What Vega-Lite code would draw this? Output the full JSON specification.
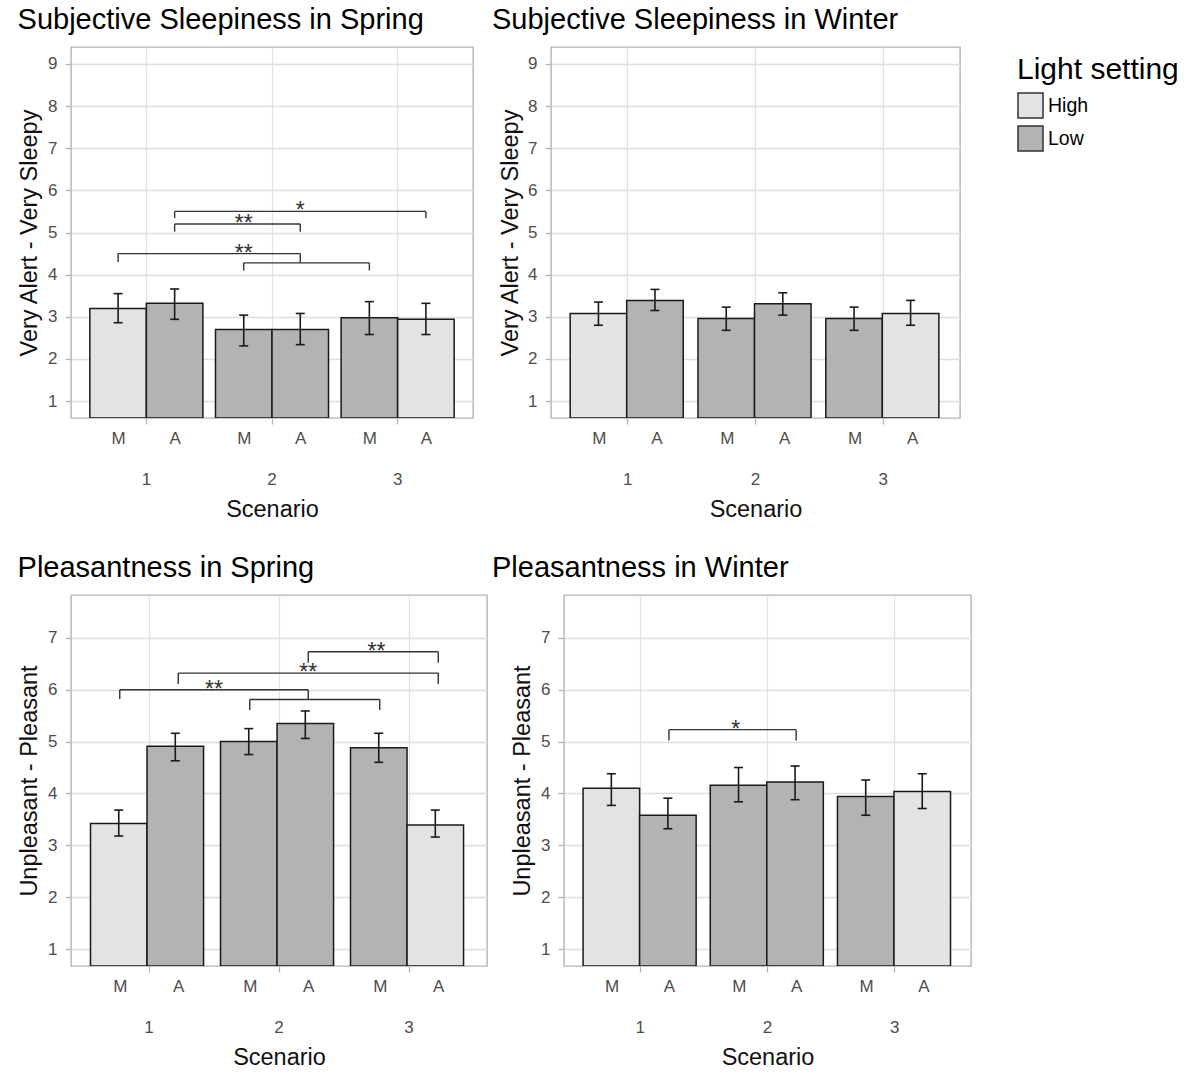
{
  "$schema": "https://vega.github.io/schema/vega-lite/v6.json",
  "background": "white",
  "padding": {"left": 16, "top": 5, "right": 0, "bottom": 0},
  "config": {
    "font": "Liberation Sans",
    "view": {"stroke": "#b3b3b3", "strokeWidth": 1.4},
    "axis": {
      "labelFont": "Liberation Sans", "labelFontSize": 17, "labelColor": "#4d4d4d",
      "titleFont": "Liberation Sans", "titleFontSize": 23.5, "titleFontWeight": "normal", "titleColor": "#111111",
      "tickColor": "#b3b3b3", "tickSize": 6, "tickWidth": 1.3,
      "gridColor": "#e2e2e2", "gridWidth": 1.3, "domain": false
    },
    "title": {"font": "Liberation Sans", "fontSize": 29, "fontWeight": "normal", "anchor": "start", "color": "#000000", "offset": 12},
    "legend": {
      "titleFont": "Liberation Sans", "titleFontSize": 30, "titleFontWeight": "normal", "titleColor": "#000000",
      "labelFont": "Liberation Sans", "labelFontSize": 19.5, "labelColor": "#000000",
      "symbolType": "square", "symbolSize": 625, "symbolStrokeColor": "#333333", "symbolStrokeWidth": 1.5,
      "rowPadding": 2, "labelOffset": 4, "titlePadding": 7, "padding": 8
    }
  },
  "datasets": {
    "bars": [
      {"measure": "Sleepiness", "season": "Spring", "scenario": 1, "time": "M", "light": "High", "mean": 3.20, "lo": 2.86, "hi": 3.55},
      {"measure": "Sleepiness", "season": "Spring", "scenario": 1, "time": "A", "light": "Low", "mean": 3.32, "lo": 2.94, "hi": 3.66},
      {"measure": "Sleepiness", "season": "Spring", "scenario": 2, "time": "M", "light": "Low", "mean": 2.70, "lo": 2.31, "hi": 3.04},
      {"measure": "Sleepiness", "season": "Spring", "scenario": 2, "time": "A", "light": "Low", "mean": 2.70, "lo": 2.34, "hi": 3.08},
      {"measure": "Sleepiness", "season": "Spring", "scenario": 3, "time": "M", "light": "Low", "mean": 2.98, "lo": 2.58, "hi": 3.36},
      {"measure": "Sleepiness", "season": "Spring", "scenario": 3, "time": "A", "light": "High", "mean": 2.94, "lo": 2.58, "hi": 3.32},
      {"measure": "Sleepiness", "season": "Winter", "scenario": 1, "time": "M", "light": "High", "mean": 3.08, "lo": 2.80, "hi": 3.35},
      {"measure": "Sleepiness", "season": "Winter", "scenario": 1, "time": "A", "light": "Low", "mean": 3.39, "lo": 3.15, "hi": 3.65},
      {"measure": "Sleepiness", "season": "Winter", "scenario": 2, "time": "M", "light": "Low", "mean": 2.96, "lo": 2.68, "hi": 3.23},
      {"measure": "Sleepiness", "season": "Winter", "scenario": 2, "time": "A", "light": "Low", "mean": 3.31, "lo": 3.04, "hi": 3.57},
      {"measure": "Sleepiness", "season": "Winter", "scenario": 3, "time": "M", "light": "Low", "mean": 2.96, "lo": 2.68, "hi": 3.23},
      {"measure": "Sleepiness", "season": "Winter", "scenario": 3, "time": "A", "light": "High", "mean": 3.08, "lo": 2.80, "hi": 3.39},
      {"measure": "Pleasantness", "season": "Spring", "scenario": 1, "time": "M", "light": "High", "mean": 3.42, "lo": 3.18, "hi": 3.68},
      {"measure": "Pleasantness", "season": "Spring", "scenario": 1, "time": "A", "light": "Low", "mean": 4.91, "lo": 4.63, "hi": 5.16},
      {"measure": "Pleasantness", "season": "Spring", "scenario": 2, "time": "M", "light": "Low", "mean": 5.00, "lo": 4.75, "hi": 5.25},
      {"measure": "Pleasantness", "season": "Spring", "scenario": 2, "time": "A", "light": "Low", "mean": 5.35, "lo": 5.06, "hi": 5.59},
      {"measure": "Pleasantness", "season": "Spring", "scenario": 3, "time": "M", "light": "Low", "mean": 4.88, "lo": 4.60, "hi": 5.16},
      {"measure": "Pleasantness", "season": "Spring", "scenario": 3, "time": "A", "light": "High", "mean": 3.39, "lo": 3.16, "hi": 3.68},
      {"measure": "Pleasantness", "season": "Winter", "scenario": 1, "time": "M", "light": "High", "mean": 4.10, "lo": 3.77, "hi": 4.38},
      {"measure": "Pleasantness", "season": "Winter", "scenario": 1, "time": "A", "light": "Low", "mean": 3.58, "lo": 3.32, "hi": 3.91},
      {"measure": "Pleasantness", "season": "Winter", "scenario": 2, "time": "M", "light": "Low", "mean": 4.16, "lo": 3.84, "hi": 4.50},
      {"measure": "Pleasantness", "season": "Winter", "scenario": 2, "time": "A", "light": "Low", "mean": 4.22, "lo": 3.88, "hi": 4.53},
      {"measure": "Pleasantness", "season": "Winter", "scenario": 3, "time": "M", "light": "Low", "mean": 3.94, "lo": 3.58, "hi": 4.26},
      {"measure": "Pleasantness", "season": "Winter", "scenario": 3, "time": "A", "light": "High", "mean": 4.04, "lo": 3.71, "hi": 4.38}
    ],
    "brackets": [
      {"measure": "Sleepiness", "season": "Spring", "xmin": 1.225, "xmax": 3.225, "y": 5.50, "tip_l": 5.34, "tip_r": 5.34},
      {"measure": "Sleepiness", "season": "Spring", "xmin": 1.225, "xmax": 2.225, "y": 5.20, "tip_l": 5.02, "tip_r": 5.02},
      {"measure": "Sleepiness", "season": "Spring", "xmin": 0.775, "xmax": 2.225, "y": 4.50, "tip_l": 4.30, "tip_r": 4.28},
      {"measure": "Sleepiness", "season": "Spring", "xmin": 1.775, "xmax": 2.775, "y": 4.28, "tip_l": 4.10, "tip_r": 4.10},
      {"measure": "Pleasantness", "season": "Spring", "xmin": 2.225, "xmax": 3.225, "y": 6.73, "tip_l": 6.52, "tip_r": 6.52},
      {"measure": "Pleasantness", "season": "Spring", "xmin": 1.225, "xmax": 3.225, "y": 6.32, "tip_l": 6.11, "tip_r": 6.11},
      {"measure": "Pleasantness", "season": "Spring", "xmin": 0.775, "xmax": 2.225, "y": 6.00, "tip_l": 5.82, "tip_r": 5.81},
      {"measure": "Pleasantness", "season": "Spring", "xmin": 1.775, "xmax": 2.775, "y": 5.81, "tip_l": 5.61, "tip_r": 5.61},
      {"measure": "Pleasantness", "season": "Winter", "xmin": 1.225, "xmax": 2.225, "y": 5.23, "tip_l": 5.02, "tip_r": 5.02}
    ],
    "labels": [
      {"measure": "Sleepiness", "season": "Spring", "x": 2.225, "y": 5.50, "label": "*"},
      {"measure": "Sleepiness", "season": "Spring", "x": 1.775, "y": 5.20, "label": "**"},
      {"measure": "Sleepiness", "season": "Spring", "x": 1.775, "y": 4.50, "label": "**"},
      {"measure": "Pleasantness", "season": "Spring", "x": 2.75, "y": 6.73, "label": "**"},
      {"measure": "Pleasantness", "season": "Spring", "x": 2.225, "y": 6.32, "label": "**"},
      {"measure": "Pleasantness", "season": "Spring", "x": 1.5, "y": 6.00, "label": "**"},
      {"measure": "Pleasantness", "season": "Winter", "x": 1.75, "y": 5.23, "label": "*"}
    ]
  },
  "resolve": {"scale": {"fill": "independent"}, "legend": {"fill": "independent"}},
  "columns": 2,
  "align": "none",
  "spacing": {"row": 31, "column": 3},
  "concat": [
    {
      "width": 402, "height": 371,
      "title": "Subjective Sleepiness in Spring",
      "resolve": {"scale": {"x": "independent"}, "axis": {"x": "independent"}},
      "layer": [
        {
          "data": {"name": "bars"},
          "transform": [{"filter": "datum.measure === 'Sleepiness' && datum.season === 'Spring'"}],
          "encoding": {
            "x": {"field": "scenario", "type": "ordinal", "scale": {"paddingInner": 0.1, "paddingOuter": 0.15},
                  "axis": {"orient": "bottom", "title": "Scenario", "labelAngle": 0, "labelPadding": 47, "bandPosition": 0.5, "grid": true, "titlePadding": 10}},
            "xOffset": {"field": "time", "type": "nominal", "sort": ["M", "A"], "scale": {"domain": ["M", "A"], "paddingInner": 0, "paddingOuter": 0}}
          },
          "layer": [
            {"mark": {"type": "bar", "stroke": "#1a1a1a", "strokeWidth": 1.5, "clip": true},
             "encoding": {
               "y": {"field": "mean", "type": "quantitative", "stack": null,
                     "scale": {"domain": [0.6, 9.4], "nice": false, "zero": false},
                     "axis": {"title": "Very Alert - Very Sleepy", "values": [1, 1.5, 2, 2.5, 3, 3.5, 4, 4.5, 5, 5.5, 6, 6.5, 7, 7.5, 8, 8.5, 9],
                              "labelExpr": "datum.value % 1 === 0 ? datum.label : ''", "labelPadding": 8, "titlePadding": 6, "grid": true,
                              "tickOpacity": {"condition": {"test": "datum.value % 1 !== 0", "value": 0}, "value": 1},
                              "gridColor": {"condition": {"test": "datum.value % 1 !== 0", "value": "#ececec"}, "value": "#dedede"}}},
               "fill": {"field": "light", "type": "nominal", "scale": {"domain": ["High", "Low"], "range": ["#e3e3e3", "#b3b3b3"]}, "legend": null}
             }},
            {"mark": {"type": "rule", "color": "#1a1a1a", "strokeWidth": 1.6},
             "encoding": {"y": {"field": "lo", "type": "quantitative"}, "y2": {"field": "hi"}}},
            {"mark": {"type": "tick", "color": "#1a1a1a", "thickness": 1.6, "size": 9, "orient": "horizontal", "opacity": 1},
             "encoding": {"y": {"field": "lo", "type": "quantitative"}}},
            {"mark": {"type": "tick", "color": "#1a1a1a", "thickness": 1.6, "size": 9, "orient": "horizontal", "opacity": 1},
             "encoding": {"y": {"field": "hi", "type": "quantitative"}}}
          ]
        },
        {
          "data": {"name": "brackets"},
          "transform": [{"filter": "datum.measure === 'Sleepiness' && datum.season === 'Spring'"}],
          "layer": [
            {"mark": {"type": "rule", "color": "#333333", "strokeWidth": 1.4},
             "encoding": {
               "x": {"field": "xmin", "type": "quantitative", "title": null, "scale": {"domain": [0.4, 3.6], "nice": false, "zero": false},
                     "axis": {"orient": "bottom", "title": null, "values": [0.775, 1.225, 1.775, 2.225, 2.775, 3.225], "labelExpr": "datum.value % 1 > 0.5 ? 'M' : 'A'",
                              "ticks": false, "grid": false, "domain": false, "labelPadding": 12, "labelFlush": false, "labelOverlap": false}},
               "x2": {"field": "xmax"},
               "y": {"field": "y", "type": "quantitative"}}},
            {"mark": {"type": "rule", "color": "#333333", "strokeWidth": 1.4},
             "encoding": {"x": {"field": "xmin", "type": "quantitative", "title": null}, "y": {"field": "tip_l", "type": "quantitative"}, "y2": {"field": "y"}}},
            {"mark": {"type": "rule", "color": "#333333", "strokeWidth": 1.4},
             "encoding": {"x": {"field": "xmax", "type": "quantitative", "title": null}, "y": {"field": "tip_r", "type": "quantitative"}, "y2": {"field": "y"}}},
            {"data": {"name": "labels"},
             "transform": [{"filter": "datum.measure === 'Sleepiness' && datum.season === 'Spring'"}],
             "mark": {"type": "text", "fontSize": 23, "baseline": "middle", "color": "#333333"},
             "encoding": {"x": {"field": "x", "type": "quantitative", "title": null}, "y": {"field": "y", "type": "quantitative"}, "text": {"field": "label"}}}
          ]
        }
      ]
    },
    {
      "width": 409, "height": 371,
      "title": "Subjective Sleepiness in Winter",
      "resolve": {"scale": {"x": "independent"}, "axis": {"x": "independent"}},
      "layer": [
        {
          "data": {"name": "bars"},
          "transform": [{"filter": "datum.measure === 'Sleepiness' && datum.season === 'Winter'"}],
          "encoding": {
            "x": {"field": "scenario", "type": "ordinal", "scale": {"paddingInner": 0.1, "paddingOuter": 0.15},
                  "axis": {"orient": "bottom", "title": "Scenario", "labelAngle": 0, "labelPadding": 47, "bandPosition": 0.5, "grid": true, "titlePadding": 10}},
            "xOffset": {"field": "time", "type": "nominal", "sort": ["M", "A"], "scale": {"domain": ["M", "A"], "paddingInner": 0, "paddingOuter": 0}}
          },
          "layer": [
            {"mark": {"type": "bar", "stroke": "#1a1a1a", "strokeWidth": 1.5, "clip": true},
             "encoding": {
               "y": {"field": "mean", "type": "quantitative", "stack": null,
                     "scale": {"domain": [0.6, 9.4], "nice": false, "zero": false},
                     "axis": {"title": "Very Alert - Very Sleepy", "values": [1, 1.5, 2, 2.5, 3, 3.5, 4, 4.5, 5, 5.5, 6, 6.5, 7, 7.5, 8, 8.5, 9],
                              "labelExpr": "datum.value % 1 === 0 ? datum.label : ''", "labelPadding": 8, "grid": true,
                              "minExtent": 59, "titleX": -29,
                              "tickOpacity": {"condition": {"test": "datum.value % 1 !== 0", "value": 0}, "value": 1},
                              "gridColor": {"condition": {"test": "datum.value % 1 !== 0", "value": "#ececec"}, "value": "#dedede"}}},
               "fill": {"field": "light", "type": "nominal", "scale": {"domain": ["High", "Low"], "range": ["#e3e3e3", "#b3b3b3"]},
                        "legend": {"title": "Light setting", "orient": "right", "offset": 49}}
             }},
            {"mark": {"type": "rule", "color": "#1a1a1a", "strokeWidth": 1.6},
             "encoding": {"y": {"field": "lo", "type": "quantitative"}, "y2": {"field": "hi"}}},
            {"mark": {"type": "tick", "color": "#1a1a1a", "thickness": 1.6, "size": 9, "orient": "horizontal", "opacity": 1},
             "encoding": {"y": {"field": "lo", "type": "quantitative"}}},
            {"mark": {"type": "tick", "color": "#1a1a1a", "thickness": 1.6, "size": 9, "orient": "horizontal", "opacity": 1},
             "encoding": {"y": {"field": "hi", "type": "quantitative"}}}
          ]
        },
        {
          "data": {"name": "brackets"},
          "transform": [{"filter": "datum.measure === 'Sleepiness' && datum.season === 'Winter'"}],
          "layer": [
            {"mark": {"type": "rule", "color": "#333333", "strokeWidth": 1.4},
             "encoding": {
               "x": {"field": "xmin", "type": "quantitative", "title": null, "scale": {"domain": [0.4, 3.6], "nice": false, "zero": false},
                     "axis": {"orient": "bottom", "title": null, "values": [0.775, 1.225, 1.775, 2.225, 2.775, 3.225], "labelExpr": "datum.value % 1 > 0.5 ? 'M' : 'A'",
                              "ticks": false, "grid": false, "domain": false, "labelPadding": 12, "labelFlush": false, "labelOverlap": false}},
               "x2": {"field": "xmax"},
               "y": {"field": "y", "type": "quantitative"}}}
          ]
        }
      ]
    },
    {
      "width": 416, "height": 371,
      "title": "Pleasantness in Spring",
      "resolve": {"scale": {"x": "independent"}, "axis": {"x": "independent"}},
      "layer": [
        {
          "data": {"name": "bars"},
          "transform": [{"filter": "datum.measure === 'Pleasantness' && datum.season === 'Spring'"}],
          "encoding": {
            "x": {"field": "scenario", "type": "ordinal", "scale": {"paddingInner": 0.1, "paddingOuter": 0.15},
                  "axis": {"orient": "bottom", "title": "Scenario", "labelAngle": 0, "labelPadding": 47, "bandPosition": 0.5, "grid": true, "titlePadding": 10}},
            "xOffset": {"field": "time", "type": "nominal", "sort": ["M", "A"], "scale": {"domain": ["M", "A"], "paddingInner": 0, "paddingOuter": 0}}
          },
          "layer": [
            {"mark": {"type": "bar", "stroke": "#1a1a1a", "strokeWidth": 1.5, "clip": true},
             "encoding": {
               "y": {"field": "mean", "type": "quantitative", "stack": null,
                     "scale": {"domain": [0.675, 7.825], "nice": false, "zero": false},
                     "axis": {"title": "Unpleasant - Pleasant", "values": [1, 1.5, 2, 2.5, 3, 3.5, 4, 4.5, 5, 5.5, 6, 6.5, 7, 7.5],
                              "labelExpr": "datum.value % 1 === 0 ? datum.label : ''", "labelPadding": 8, "titlePadding": 6, "grid": true,
                              "tickOpacity": {"condition": {"test": "datum.value % 1 !== 0", "value": 0}, "value": 1},
                              "gridColor": {"condition": {"test": "datum.value % 1 !== 0", "value": "#ececec"}, "value": "#dedede"}}},
               "fill": {"field": "light", "type": "nominal", "scale": {"domain": ["High", "Low"], "range": ["#e3e3e3", "#b3b3b3"]}, "legend": null}
             }},
            {"mark": {"type": "rule", "color": "#1a1a1a", "strokeWidth": 1.6},
             "encoding": {"y": {"field": "lo", "type": "quantitative"}, "y2": {"field": "hi"}}},
            {"mark": {"type": "tick", "color": "#1a1a1a", "thickness": 1.6, "size": 9, "orient": "horizontal", "opacity": 1},
             "encoding": {"y": {"field": "lo", "type": "quantitative"}}},
            {"mark": {"type": "tick", "color": "#1a1a1a", "thickness": 1.6, "size": 9, "orient": "horizontal", "opacity": 1},
             "encoding": {"y": {"field": "hi", "type": "quantitative"}}}
          ]
        },
        {
          "data": {"name": "brackets"},
          "transform": [{"filter": "datum.measure === 'Pleasantness' && datum.season === 'Spring'"}],
          "layer": [
            {"mark": {"type": "rule", "color": "#333333", "strokeWidth": 1.4},
             "encoding": {
               "x": {"field": "xmin", "type": "quantitative", "title": null, "scale": {"domain": [0.4, 3.6], "nice": false, "zero": false},
                     "axis": {"orient": "bottom", "title": null, "values": [0.775, 1.225, 1.775, 2.225, 2.775, 3.225], "labelExpr": "datum.value % 1 > 0.5 ? 'M' : 'A'",
                              "ticks": false, "grid": false, "domain": false, "labelPadding": 12, "labelFlush": false, "labelOverlap": false}},
               "x2": {"field": "xmax"},
               "y": {"field": "y", "type": "quantitative"}}},
            {"mark": {"type": "rule", "color": "#333333", "strokeWidth": 1.4},
             "encoding": {"x": {"field": "xmin", "type": "quantitative", "title": null}, "y": {"field": "tip_l", "type": "quantitative"}, "y2": {"field": "y"}}},
            {"mark": {"type": "rule", "color": "#333333", "strokeWidth": 1.4},
             "encoding": {"x": {"field": "xmax", "type": "quantitative", "title": null}, "y": {"field": "tip_r", "type": "quantitative"}, "y2": {"field": "y"}}},
            {"data": {"name": "labels"},
             "transform": [{"filter": "datum.measure === 'Pleasantness' && datum.season === 'Spring'"}],
             "mark": {"type": "text", "fontSize": 23, "baseline": "middle", "color": "#333333"},
             "encoding": {"x": {"field": "x", "type": "quantitative", "title": null}, "y": {"field": "y", "type": "quantitative"}, "text": {"field": "label"}}}
          ]
        }
      ]
    },
    {
      "width": 407, "height": 371,
      "title": "Pleasantness in Winter",
      "resolve": {"scale": {"x": "independent"}, "axis": {"x": "independent"}},
      "layer": [
        {
          "data": {"name": "bars"},
          "transform": [{"filter": "datum.measure === 'Pleasantness' && datum.season === 'Winter'"}],
          "encoding": {
            "x": {"field": "scenario", "type": "ordinal", "scale": {"paddingInner": 0.1, "paddingOuter": 0.15},
                  "axis": {"orient": "bottom", "title": "Scenario", "labelAngle": 0, "labelPadding": 47, "bandPosition": 0.5, "grid": true, "titlePadding": 10}},
            "xOffset": {"field": "time", "type": "nominal", "sort": ["M", "A"], "scale": {"domain": ["M", "A"], "paddingInner": 0, "paddingOuter": 0}}
          },
          "layer": [
            {"mark": {"type": "bar", "stroke": "#1a1a1a", "strokeWidth": 1.5, "clip": true},
             "encoding": {
               "y": {"field": "mean", "type": "quantitative", "stack": null,
                     "scale": {"domain": [0.675, 7.825], "nice": false, "zero": false},
                     "axis": {"title": "Unpleasant - Pleasant", "values": [1, 1.5, 2, 2.5, 3, 3.5, 4, 4.5, 5, 5.5, 6, 6.5, 7, 7.5],
                              "labelExpr": "datum.value % 1 === 0 ? datum.label : ''", "labelPadding": 8, "grid": true,
                              "minExtent": 72, "titleX": -30,
                              "tickOpacity": {"condition": {"test": "datum.value % 1 !== 0", "value": 0}, "value": 1},
                              "gridColor": {"condition": {"test": "datum.value % 1 !== 0", "value": "#ececec"}, "value": "#dedede"}}},
               "fill": {"field": "light", "type": "nominal", "scale": {"domain": ["High", "Low"], "range": ["#e3e3e3", "#b3b3b3"]}, "legend": null}
             }},
            {"mark": {"type": "rule", "color": "#1a1a1a", "strokeWidth": 1.6},
             "encoding": {"y": {"field": "lo", "type": "quantitative"}, "y2": {"field": "hi"}}},
            {"mark": {"type": "tick", "color": "#1a1a1a", "thickness": 1.6, "size": 9, "orient": "horizontal", "opacity": 1},
             "encoding": {"y": {"field": "lo", "type": "quantitative"}}},
            {"mark": {"type": "tick", "color": "#1a1a1a", "thickness": 1.6, "size": 9, "orient": "horizontal", "opacity": 1},
             "encoding": {"y": {"field": "hi", "type": "quantitative"}}}
          ]
        },
        {
          "data": {"name": "brackets"},
          "transform": [{"filter": "datum.measure === 'Pleasantness' && datum.season === 'Winter'"}],
          "layer": [
            {"mark": {"type": "rule", "color": "#333333", "strokeWidth": 1.4},
             "encoding": {
               "x": {"field": "xmin", "type": "quantitative", "title": null, "scale": {"domain": [0.4, 3.6], "nice": false, "zero": false},
                     "axis": {"orient": "bottom", "title": null, "values": [0.775, 1.225, 1.775, 2.225, 2.775, 3.225], "labelExpr": "datum.value % 1 > 0.5 ? 'M' : 'A'",
                              "ticks": false, "grid": false, "domain": false, "labelPadding": 12, "labelFlush": false, "labelOverlap": false}},
               "x2": {"field": "xmax"},
               "y": {"field": "y", "type": "quantitative"}}},
            {"mark": {"type": "rule", "color": "#333333", "strokeWidth": 1.4},
             "encoding": {"x": {"field": "xmin", "type": "quantitative", "title": null}, "y": {"field": "tip_l", "type": "quantitative"}, "y2": {"field": "y"}}},
            {"mark": {"type": "rule", "color": "#333333", "strokeWidth": 1.4},
             "encoding": {"x": {"field": "xmax", "type": "quantitative", "title": null}, "y": {"field": "tip_r", "type": "quantitative"}, "y2": {"field": "y"}}},
            {"data": {"name": "labels"},
             "transform": [{"filter": "datum.measure === 'Pleasantness' && datum.season === 'Winter'"}],
             "mark": {"type": "text", "fontSize": 23, "baseline": "middle", "color": "#333333"},
             "encoding": {"x": {"field": "x", "type": "quantitative", "title": null}, "y": {"field": "y", "type": "quantitative"}, "text": {"field": "label"}}}
          ]
        }
      ]
    }
  ]
}
